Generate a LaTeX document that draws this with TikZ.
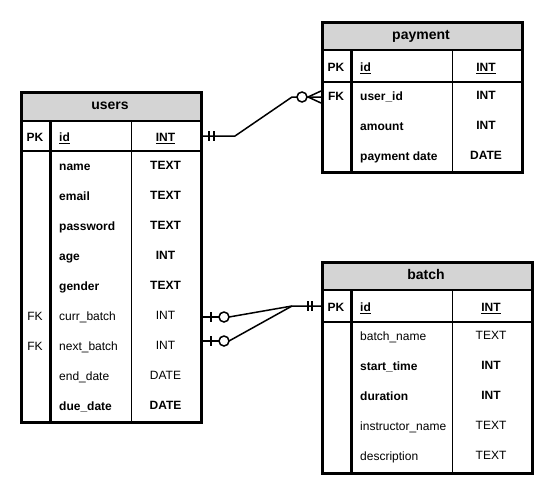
\documentclass[tikz,border=0pt]{standalone}
\usepackage{fontspec}
\setmainfont{Liberation Sans}
\usetikzlibrary{calc}
\definecolor{hdrgray}{HTML}{D4D4D4}
\begin{document}
\begin{tikzpicture}[x=1pt,y=-1pt,
  tbl/.style={draw, line width=3pt, fill=none, inner sep=0pt, anchor=north west},
  txt/.style={font=\fontsize{12}{14}\selectfont, inner sep=0pt, text height=9pt, text depth=2.5pt},
  btxt/.style={font=\fontsize{12}{14}\selectfont\bfseries, inner sep=0pt, text height=9pt, text depth=2.5pt},
  nm/.style={anchor=west},
  title/.style={font=\fontsize{14}{16}\selectfont\bfseries, inner sep=0pt, text height=10pt, text depth=3pt},
  hline/.style={line width=2pt},
  kline/.style={line width=3pt},
  tline/.style={line width=1pt},
  conn/.style={line width=1.5pt},
  circ/.style={line width=1.5pt, fill=white}
]
\useasboundingbox (0,0) rectangle (553,495);
\fill[white] (0,0) rectangle (553,495);

% ---------------- users ----------------
\fill[hdrgray] (20,91) rectangle (200,121);
\draw[hline] (20,121) -- (200,121);
\draw[line width=1.5pt] (20,151) -- (200,151);
\draw[kline] (50,121) -- (50,421);
\draw[tline] (131,121) -- (131,421);
\node[tbl, minimum width=180pt, minimum height=330pt] (users) at (20,91) {};
\node[title] (users-t) at (110,106) {users};
\node[btxt] (u-pk) at (35,138.5) {PK};
\node[btxt,nm] (u-id) at (59,138.5) {\underline{id}};
\node[btxt] (u-idt) at (165.5,138.5) {\underline{INT}};
\node[btxt,nm] (u-name) at (59,167) {name};
\node[btxt] (u-namet) at (165.5,166) {TEXT};
\node[btxt,nm] (u-email) at (59,197) {email};
\node[btxt] (u-emailt) at (165.5,196) {TEXT};
\node[btxt,nm] (u-pass) at (59,227) {password};
\node[btxt] (u-passt) at (165.5,226) {TEXT};
\node[btxt,nm] (u-age) at (59,257) {age};
\node[btxt] (u-aget) at (165.5,256) {INT};
\node[btxt,nm] (u-gender) at (59,287) {gender};
\node[btxt] (u-gendert) at (165.5,286) {TEXT};
\node[txt] (u-fk1) at (35,317) {FK};
\node[txt,nm] (u-curr) at (59,317) {curr\_batch};
\node[txt] (u-currt) at (165.5,316) {INT};
\node[txt] (u-fk2) at (35,347) {FK};
\node[txt,nm] (u-next) at (59,347) {next\_batch};
\node[txt] (u-nextt) at (165.5,346) {INT};
\node[txt,nm] (u-end) at (59,377) {end\_date};
\node[txt] (u-endt) at (165.5,376) {DATE};
\node[btxt,nm] (u-due) at (59,407) {due\_date};
\node[btxt] (u-duet) at (165.5,406) {DATE};

% ---------------- payment ----------------
\fill[hdrgray] (321,21) rectangle (521,50);
\draw[hline] (321,50) -- (521,50);
\draw[hline] (321,82) -- (521,82);
\draw[kline] (351,50) -- (351,171);
\draw[tline] (452,50) -- (452,171);
\node[tbl, minimum width=200pt, minimum height=150pt] (payment) at (321,21) {};
\node[title] (payment-t) at (421,36) {payment};
\node[btxt] (p-pk) at (336,68.5) {PK};
\node[btxt,nm] (p-id) at (360,68.5) {\underline{id}};
\node[btxt] (p-idt) at (486,68.5) {\underline{INT}};
\node[btxt] (p-fk) at (336,97) {FK};
\node[btxt,nm] (p-user) at (360,97) {user\_id};
\node[btxt] (p-usert) at (486,96) {INT};
\node[btxt,nm] (p-amount) at (360,127) {amount};
\node[btxt] (p-amountt) at (486,126) {INT};
\node[btxt,nm] (p-date) at (360,157) {payment date};
\node[btxt] (p-datet) at (486,156) {DATE};

% ---------------- batch ----------------
\fill[hdrgray] (321,261) rectangle (531,290);
\draw[hline] (321,290) -- (531,290);
\draw[hline] (321,322) -- (531,322);
\draw[kline] (351,290) -- (351,472);
\draw[tline] (452,290) -- (452,472);
\node[tbl, minimum width=210pt, minimum height=211pt] (batch) at (321,261) {};
\node[title] (batch-t) at (426,276) {batch};
\node[btxt] (b-pk) at (336,308.5) {PK};
\node[btxt,nm] (b-id) at (360,308.5) {\underline{id}};
\node[btxt] (b-idt) at (491,308.5) {\underline{INT}};
\node[txt,nm] (b-name) at (360,337) {batch\_name};
\node[txt] (b-namet) at (491,336) {TEXT};
\node[btxt,nm] (b-start) at (360,367) {start\_time};
\node[btxt] (b-startt) at (491,366) {INT};
\node[btxt,nm] (b-dur) at (360,397) {duration};
\node[btxt] (b-durt) at (491,396) {INT};
\node[txt,nm] (b-instr) at (360,427) {instructor\_name};
\node[txt] (b-instrt) at (491,426) {TEXT};
\node[txt,nm] (b-desc) at (360,457) {description};
\node[txt] (b-desct) at (491,456) {TEXT};

% ---------------- connectors ----------------
% users.id -> payment.user_id (one-mandatory to zero-or-many)
\coordinate (A1) at ($(users.east |- u-id)+(0,-2.5)$);
\coordinate (P1) at (payment.west |- p-user);
\draw[conn] (A1) -- ($(A1)+(32,0)$) -- ($(P1)+(-29,0)$) -- (P1);
\draw[conn] ($(A1)+(6,-5)$) -- ($(A1)+(6,5)$);
\draw[conn] ($(A1)+(11,-5)$) -- ($(A1)+(11,5)$);
\draw[conn] ($(P1)+(-13,0)$) -- ($(P1)+(0,-6)$);
\draw[conn] ($(P1)+(-13,0)$) -- ($(P1)+(0,6)$);
\draw[circ] ($(P1)+(-19,0)$) circle[radius=5];

% users.curr_batch / next_batch -> batch.id
\coordinate (B) at ($(batch.west |- b-id)+(0,-2.5)$);
\coordinate (A2) at (users.east |- u-curr);
\coordinate (A3) at ($(users.east |- u-next)+(0,-6)$);
\draw[conn] (A2) -- ($(A2)+(16,0)$);
\draw[conn] ($(A2)+(26,0)$) -- ($(B)+(-29,0)$) -- (B);
\draw[conn] (A3) -- ($(A3)+(16,0)$);
\draw[conn] ($(A3)+(26,0)$) -- ($(B)+(-29,0)$);
\draw[conn] ($(A2)+(8,-5)$) -- ($(A2)+(8,5)$);
\draw[conn] ($(A3)+(8,-5)$) -- ($(A3)+(8,5)$);
\draw[circ] ($(A2)+(21,0)$) circle[radius=5];
\draw[circ] ($(A3)+(21,0)$) circle[radius=5];
\draw[conn] ($(B)+(-13,-5)$) -- ($(B)+(-13,5)$);
\draw[conn] ($(B)+(-9,-5)$) -- ($(B)+(-9,5)$);
\end{tikzpicture}
\end{document}
